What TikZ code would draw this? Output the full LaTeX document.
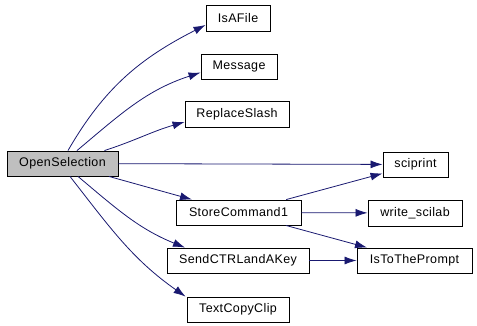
\documentclass[tikz,border=0pt]{standalone}
\usepackage{fontspec}
\setmainfont{Liberation Sans}[LetterSpace=3]
\usetikzlibrary{arrows.meta}
\definecolor{edgeblue}{HTML}{191970}
\definecolor{rootgray}{HTML}{BFBFBF}

\begin{document}
\begin{tikzpicture}[
    x = 1pt,
    y = -1pt,
    func/.style = {
        rectangle,
        minimum height = 25pt,
        inner sep = 0pt,
        text centered,
        draw = black,
        line width = 0.9pt,
        fill = white,
        font = \fontsize{12.5}{14}\selectfont
    },
    root/.style = {
        func,
        fill = rootgray
    },
    arrow/.style = {
        -{Latex[length=12pt,width=8pt]},
        draw = edgeblue,
        line width = 0.8pt
    }
]

    \useasboundingbox (0,0) rectangle (477,325);

    % Caller
    \node [root, minimum width = 111pt] (os) at (62.5,163.5) {OpenSelection};

    % Called functions (middle column)
    \node [func, minimum width = 64pt, minimum height = 26pt] (isa) at (238,18) {IsAFile};
    \node [func, minimum width = 76pt] (msg) at (239,66.5) {Message};
    \node [func, minimum width = 104pt, minimum height = 26pt] (rs) at (237,114) {ReplaceSlash};
    \node [func, minimum width = 125pt] (sc) at (238.5,212.5) {StoreCommand1};
    \node [func, minimum width = 142pt] (sk) at (238,260.5) {SendCTRLandAKey};
    \node [func, minimum width = 102pt] (tcc) at (238,309.5) {TextCopyClip};

    % Called functions (right column)
    \node [func, minimum width = 65pt] (sp) at (415.5,164.5) {sciprint};
    \node [func, minimum width = 94pt, minimum height = 26pt] (ws) at (415,213) {write\_scilab};
    \node [func, minimum width = 115pt] (ip) at (414.5,260.5) {IsToThePrompt};

    % Calls from OpenSelection
    \draw [arrow] ([xshift=5.5pt]os.north) to [out=60, in=207] ([yshift=-7pt]isa.west);
    \draw [arrow] ([xshift=14.5pt]os.north) to [out=40, in=198] ([yshift=-6pt]msg.west);
    \draw [arrow] ([xshift=42pt]os.north) to [out=18, in=196] ([yshift=-8pt]rs.west);
    \draw [arrow] (os) -- (sp);
    \draw [arrow] (os) -- (sc);
    \draw [arrow] ([xshift=15.5pt]os.south) to [out=-40, in=158] ([xshift=-53pt]sk.north);
    \draw [arrow] ([xshift=7.5pt]os.south) to [out=-52, in=145] ([xshift=-1pt]tcc.north west);

    % Calls from the second column
    \draw [arrow] (sc) -- (sp);
    \draw [arrow] (sc) -- (ws);
    \draw [arrow] (sc) -- (ip);
    \draw [arrow] (sk) -- (ip);

\end{tikzpicture}
\end{document}
